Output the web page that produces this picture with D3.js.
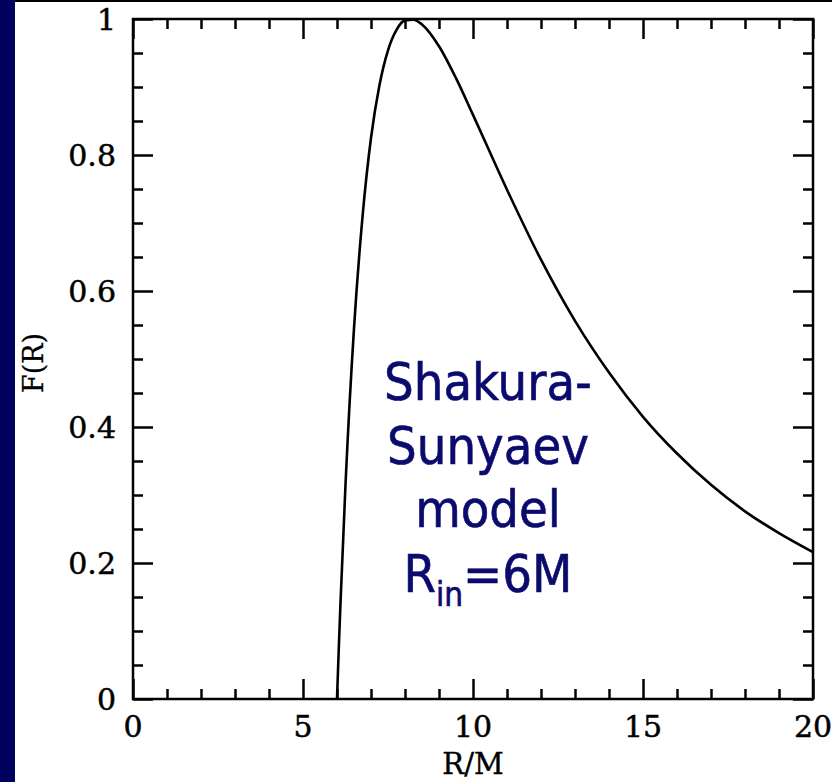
<!DOCTYPE html>
<html>
<head>
<meta charset="utf-8">
<script src="https://cdn.jsdelivr.net/npm/d3@7"></script>
<style>
  html, body { margin: 0; padding: 0; background: #fff; }
  svg { display: block; }
</style>
</head>
<body>
<svg width="832" height="782"></svg>
<script>
// curve: F(R) vs R/M
let rValues = [6, 6.05, 6.1, 6.25, 6.5, 6.75, 7, 7.25, 7.5, 7.75, 8, 8.25, 8.5, 9, 9.5, 10, 11, 12, 13, 14, 15, 16, 17, 18, 19, 20];
let fValues = [0, 0.071, 0.138, 0.315, 0.545, 0.709, 0.825, 0.903, 0.954, 0.984, 0.998, 0.999, 0.992, 0.960, 0.913, 0.859, 0.749, 0.646, 0.556, 0.480, 0.415, 0.361, 0.315, 0.276, 0.244, 0.216];

let xMajor = [0, 5, 10, 15, 20];
let xLabels = ["0", "5", "10", "15", "20"];
let yMajor = [0, 0.2, 0.4, 0.6, 0.8, 1];
let yLabels = ["0", "0.2", "0.4", "0.6", "0.8", "1"];
let noteLines = ["Shakura-", "Sunyaev", "model"];

let svg = d3.select("svg");
let plotL = 133, plotR = 813, plotT = 19, plotB = 699;

let x = d3.scaleLinear().domain([0, 20]).range([plotL, plotR]);
let y = d3.scaleLinear().domain([0, 1]).range([plotB, plotT]);

//navy strip and top rule
svg.append("rect").attr("x", 0).attr("y", 0).attr("width", 15).attr("height", 782).attr("fill", "#00005e");
svg.append("rect").attr("x", 15).attr("y", 0).attr("width", 817).attr("height", 2).attr("fill", "#000");

//ticks on all four sides, pointing in
let tickGroup = (axisFn, scale, vals, len, tr) =>
  svg.append("g")
    .attr("transform", tr)
    .call(axisFn(scale).tickValues(vals).tickSize(-len).tickFormat(""))
    .call(g => g.select(".domain").remove())
    .call(g => g.selectAll("line").attr("stroke", "#000").attr("stroke-width", 2.5));

let xMinor = x.ticks(20).filter(d => xMajor.indexOf(d) < 0);
let yMinor = d3.range(0, 21).map(i => i / 20).filter((d, i) => i % 4 != 0);

tickGroup(d3.axisBottom, x, xMinor, 10, "translate(0," + plotB + ")");
tickGroup(d3.axisBottom, x, xMajor, 20, "translate(0," + plotB + ")");
tickGroup(d3.axisTop, x, xMinor, 10, "translate(0," + plotT + ")");
tickGroup(d3.axisTop, x, xMajor, 20, "translate(0," + plotT + ")");
tickGroup(d3.axisLeft, y, yMinor, 10, "translate(" + plotL + ",0)");
tickGroup(d3.axisLeft, y, yMajor, 20, "translate(" + plotL + ",0)");
tickGroup(d3.axisRight, y, yMinor, 10, "translate(" + plotR + ",0)");
tickGroup(d3.axisRight, y, yMajor, 20, "translate(" + plotR + ",0)");

//frame
svg.append("rect")
  .attr("x", plotL).attr("y", plotT)
  .attr("width", plotR - plotL).attr("height", plotB - plotT)
  .attr("fill", "none").attr("stroke", "#000").attr("stroke-width", 2.5);

//tick labels
let serif = "'DejaVu Serif', 'Liberation Serif', serif";
svg.append("g").selectAll("text")
  .data(xMajor)
  .enter().append("text")
  .attr("x", d => x(d))
  .attr("y", 737)
  .attr("text-anchor", "middle")
  .attr("font-family", serif).attr("font-size", 30)
  .attr("stroke", "#000").attr("stroke-width", 0.5)
  .text((d, i) => xLabels[i]);

svg.append("g").selectAll("text")
  .data(yMajor)
  .enter().append("text")
  .attr("x", 116)
  .attr("y", d => y(d) + 11)
  .attr("text-anchor", "end")
  .attr("font-family", serif).attr("font-size", 30)
  .attr("stroke", "#000").attr("stroke-width", 0.5)
  .text((d, i) => yLabels[i]);

//axis titles
svg.append("text")
  .attr("x", 473).attr("y", 774)
  .attr("text-anchor", "middle")
  .attr("font-family", serif).attr("font-size", 29)
  .attr("stroke", "#000").attr("stroke-width", 0.4)
  .text("R/M");

svg.append("text")
  .attr("transform", "translate(43,363) rotate(-90)")
  .attr("text-anchor", "middle")
  .attr("font-family", serif).attr("font-size", 27)
  .attr("stroke", "#000").attr("stroke-width", 0.3)
  .text("F(R)");

//curve
let line = d3.line()
  .x((d, i) => x(rValues[i]))
  .y(d => y(d))
  .curve(d3.curveMonotoneX);

svg.append("path")
  .datum(fValues)
  .attr("d", line)
  .attr("fill", "none")
  .attr("stroke", "#000")
  .attr("stroke-width", 2.6);

//annotation
let sans = "'DejaVu Sans Condensed', 'DejaVu Sans', sans-serif";
let navy = "#0b0b6e";
svg.append("g").selectAll("text")
  .data(noteLines)
  .enter().append("text")
  .attr("x", 488)
  .attr("y", (d, i) => 400 + i * 63.5)
  .attr("text-anchor", "middle")
  .attr("font-family", sans).attr("font-size", 52)
  .attr("fill", navy)
  .attr("stroke", navy).attr("stroke-width", 0.6)
  .text(d => d);

let rin = svg.append("text")
  .attr("x", 488).attr("y", 592)
  .attr("text-anchor", "middle")
  .attr("font-family", sans).attr("font-size", 52)
  .attr("fill", navy)
  .attr("stroke", navy).attr("stroke-width", 0.6);
rin.append("tspan").text("R");
rin.append("tspan").attr("font-size", 33).attr("dy", 14).text("in");
rin.append("tspan").attr("dy", -14).text("=6M");
</script>
</body>
</html>
